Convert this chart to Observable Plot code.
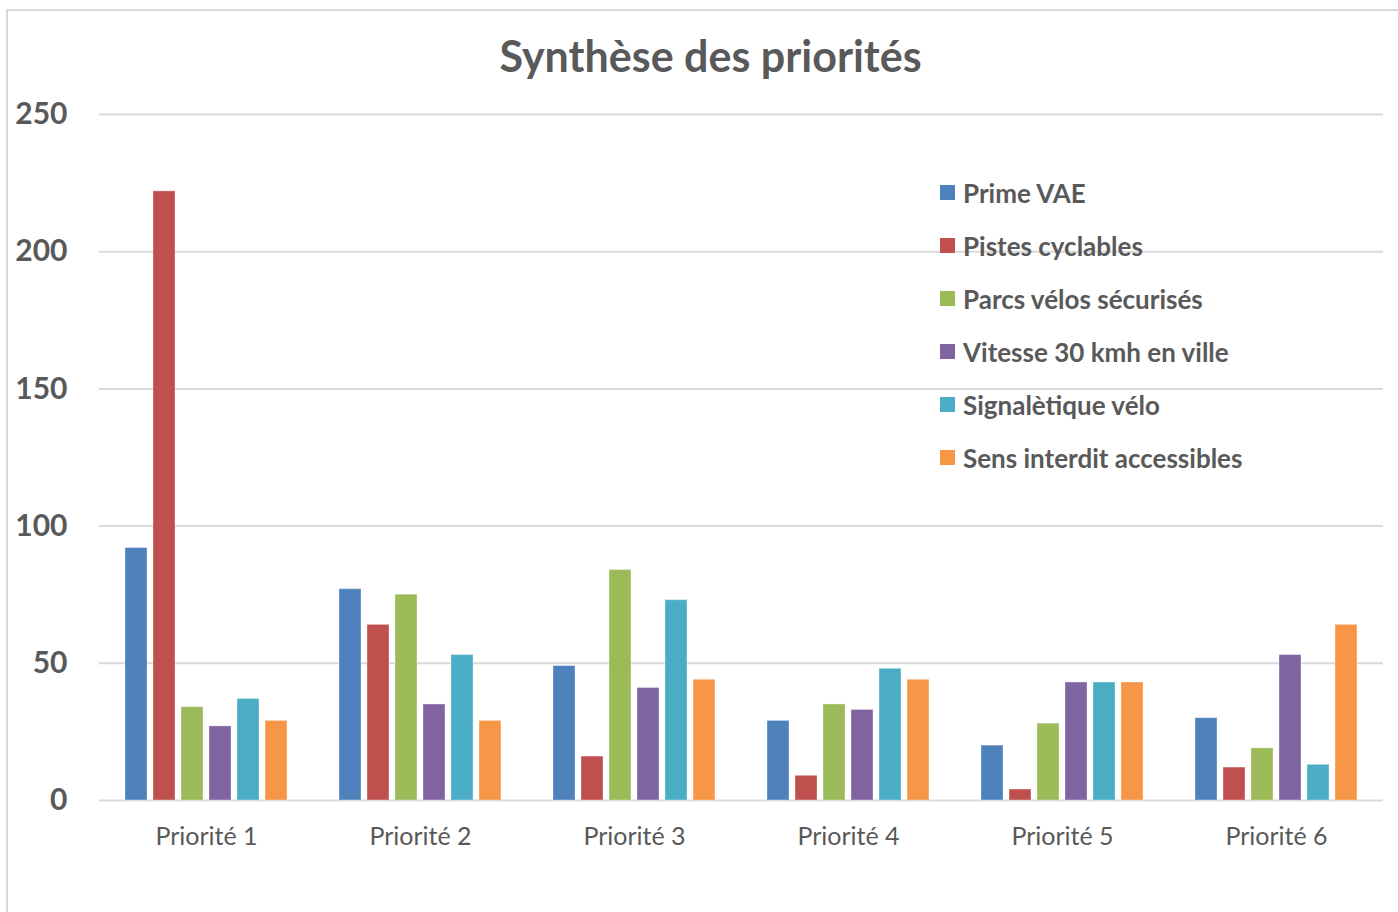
<!DOCTYPE html>
<html><head><meta charset="utf-8">
<script src="https://cdn.jsdelivr.net/npm/d3@7"></script>
<script src="https://cdn.jsdelivr.net/npm/@observablehq/plot@0.6"></script>
<style>
html,body{margin:0;padding:0;background:#fff;overflow:hidden}
#wrap{position:relative;width:1398px;height:912px;overflow:hidden;font-family:Lato,sans-serif;color:#595959}
#frame{position:absolute;left:6px;top:9px;width:2000px;height:2000px;border:2px solid #d9d9d9;box-sizing:border-box}
#chart{position:absolute;left:0;top:0}
#title{position:absolute;left:0;width:1421px;top:34px;text-align:center;font-size:43px;font-weight:bold;line-height:43px;white-space:nowrap}
#legend{position:absolute;left:940px;top:166px}
.row{display:flex;align-items:center;height:53px}
.sw{width:15px;height:15px;margin-right:8px;flex:none}
.lab{font-size:26px;font-weight:bold;line-height:26px;white-space:nowrap}
</style></head>
<body>
<div id="wrap">
  <div id="frame"></div>
  <div id="chart"></div>
  <div id="title">Synthèse des priorités</div>
  <div id="legend"></div>
</div>
<script>
const categories = ["Priorité 1", "Priorité 2", "Priorité 3", "Priorité 4", "Priorité 5", "Priorité 6"];
const series = ["Prime VAE", "Pistes cyclables", "Parcs vélos sécurisés", "Vitesse 30 kmh en ville", "Signalètique vélo", "Sens interdit accessibles"];
const colors = ["#4F81BD", "#C0504D", "#9BBB59", "#8064A2", "#4BACC6", "#F79646"];
const primeVAE = [92, 77, 49, 29, 20, 30];
const pistesCyclables = [222, 64, 16, 9, 4, 12];
const parcsVelos = [34, 75, 84, 35, 28, 19];
const vitesse30 = [27, 35, 41, 33, 43, 53];
const signaletique = [37, 53, 73, 48, 43, 13];
const sensInterdit = [29, 29, 44, 44, 43, 64];
const yTicks = [0, 50, 100, 150, 200, 250];

const seriesValues = [primeVAE, pistesCyclables, parcsVelos, vitesse30, signaletique, sensInterdit];
const rows = categories.flatMap((c, i) => series.map((s, j) => ({category: c, series: s, value: seriesValues[j][i]})));

const chart = Plot.plot({
  width: 1398,
  height: 912,
  marginLeft: 98,
  marginRight: 14,
  marginTop: 114,
  marginBottom: 112,
  style: {fontFamily: "Lato, sans-serif", color: "#595959", background: "transparent", overflow: "visible"},
  fx: {domain: categories, padding: 0, label: null},
  x: {domain: series, paddingInner: 0.21, paddingOuter: 0.88, axis: null},
  y: {domain: [0, 250], axis: null},
  color: {domain: series, range: colors},
  marks: [
    Plot.gridY(yTicks, {stroke: "#d9d9d9", strokeOpacity: 1, strokeWidth: 2}),
    Plot.barY(rows, {fx: "category", x: "series", y: "value", fill: "series", stroke: "white", strokeOpacity: 0.35, strokeWidth: 1}),
    Plot.axisY(yTicks, {tickSize: 0, tickPadding: 32, fontSize: 30, fontWeight: "bold", label: null}),
    Plot.axisFx({anchor: "bottom", tickSize: 0, tickPadding: 27, fontSize: 25, label: null})
  ]
});
document.getElementById("chart").appendChild(chart);

const legend = document.getElementById("legend");
series.forEach((s, i) => {
  const row = document.createElement("div");
  row.className = "row";
  const sw = document.createElement("div");
  sw.className = "sw";
  sw.style.background = colors[i];
  const lab = document.createElement("div");
  lab.className = "lab";
  lab.textContent = s;
  row.appendChild(sw);
  row.appendChild(lab);
  legend.appendChild(row);
});
</script>
</body></html>
